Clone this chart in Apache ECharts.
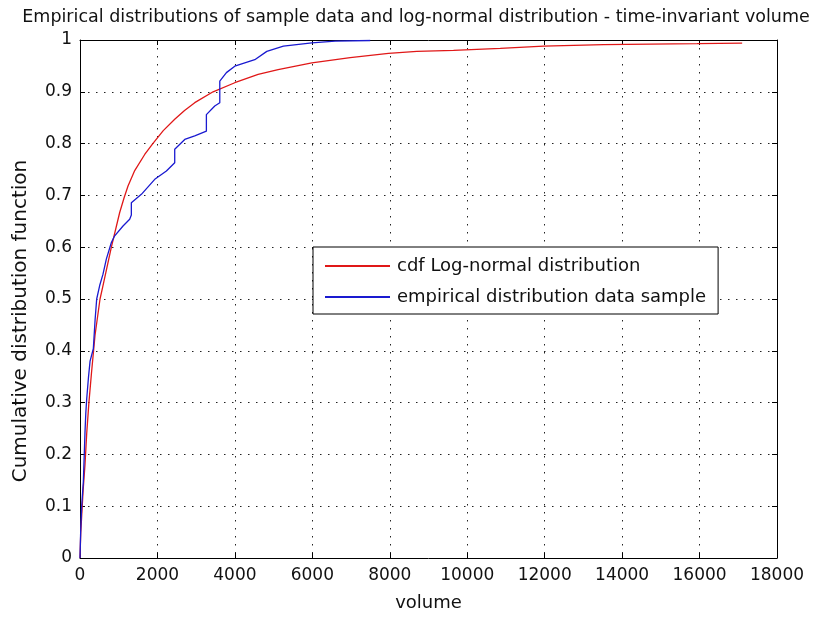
<!DOCTYPE html>
<html>
<head>
<meta charset="utf-8">
<script src="https://cdn.jsdelivr.net/npm/echarts@6/dist/echarts.min.js"></script>
<style>
html,body{margin:0;padding:0;background:#fff;}
#chart{width:832px;height:617px;}
</style>
</head>
<body>
<div id="chart"></div>
<script>
const titleText = 'Empirical distributions of sample data and log-normal distribution - time-invariant volume';
const xName = 'volume';
const yName = 'Cumulative distribution function';
const seriesNames = ['cdf Log-normal distribution', 'empirical distribution data sample'];

const lognormVolume = [0,20,43,80,129,173,230,300,388,517,594,810,1025,1137,1240,1413,1671,1880,2150,2446,2700,2963,3437,3997,4600,5116,5987,6977,7966,8700,9646,10853,11972,13522,15935,17100];
const lognormCdf    = [0,0.05,0.08,0.13,0.18,0.24,0.30,0.36,0.43,0.50,0.526,0.60,0.667,0.695,0.718,0.748,0.779,0.80,0.825,0.847,0.864,0.879,0.90,0.9175,0.9335,0.943,0.956,0.966,0.974,0.978,0.980,0.984,0.988,0.991,0.993,0.994];

const empVolume = [0,17,43,86,110,129,150,173,220,260,344,390,431,508,594,680,810,896,1111,1283,1326,1326,1585,1930,2231,2446,2446,2705,2963,3264,3264,3480,3610,3610,3781,3997,4514,4824,5253,5987,6589,7494];
const empCdf    = [0,0.05,0.1,0.147,0.2,0.243,0.28,0.307,0.35,0.38,0.404,0.46,0.5,0.526,0.548,0.577,0.609,0.622,0.641,0.654,0.662,0.686,0.702,0.731,0.747,0.763,0.789,0.808,0.815,0.824,0.856,0.8725,0.879,0.9206,0.937,0.9495,0.962,0.978,0.988,0.9946,0.998,0.999];

const xMin = 0, xMax = 18000, xStep = 2000;
const yMin = 0, yMax = 1, yStep = 0.1;

const zip = (a, b) => a.map((v, i) => [v, b[i]]);
const font = 'DejaVu Sans, Liberation Sans, sans-serif';
const gridStyle = {show: true, lineStyle: {color: '#222', type: [1.5, 6.5], width: 1}};

const chart = echarts.init(document.getElementById('chart'), null, {renderer: 'canvas'});
chart.setOption({
  backgroundColor: '#fff',
  animation: false,
  title: {
    text: titleText, left: 'center', top: 3,
    textStyle: {fontFamily: font, fontSize: 17.5, fontWeight: 'normal', color: '#111'}
  },
  graphic: [{
    type: 'text', x: 21, y: 321, rotation: Math.PI / 2,
    style: {text: yName, fontFamily: font, fontSize: 20, fill: '#111', align: 'center', verticalAlign: 'middle'}
  }],
  grid: {left: 80, right: 55, top: 40, bottom: 57.5, containLabel: false},
  legend: {
    orient: 'vertical', left: 313, top: 247,
    data: seriesNames,
    backgroundColor: '#fff',
    borderColor: '#000', borderWidth: 1,
    padding: [9, 12, 7, 12],
    itemWidth: 65, itemHeight: 2, itemGap: 11,
    icon: 'rect',
    textStyle: {fontFamily: font, fontSize: 18, color: '#111', lineHeight: 20, padding: [0, 0, 0, 2]}
  },
  xAxis: [{
    type: 'value', min: xMin, max: xMax, interval: xStep,
    name: xName, nameLocation: 'middle', nameGap: 36,
    nameTextStyle: {fontFamily: font, fontSize: 18, color: '#111'},
    axisLine: {show: true, onZero: false, lineStyle: {color: '#000', width: 1}},
    axisTick: {show: true, inside: true, length: 5, lineStyle: {color: '#000'}},
    axisLabel: {fontFamily: font, fontSize: 17, color: '#111', margin: 9, formatter: v => String(v)},
    splitLine: gridStyle
  }, {
    type: 'value', min: xMin, max: xMax, interval: xStep, position: 'top',
    axisLine: {show: true, onZero: false, lineStyle: {color: '#000', width: 1}},
    axisTick: {show: true, inside: true, length: 5, lineStyle: {color: '#000'}},
    axisLabel: {show: false}, splitLine: {show: false}
  }],
  yAxis: [{
    type: 'value', min: yMin, max: yMax, interval: yStep,
    axisLine: {show: true, onZero: false, lineStyle: {color: '#000', width: 1}},
    axisTick: {show: true, inside: true, length: 5, lineStyle: {color: '#000'}},
    axisLabel: {fontFamily: font, fontSize: 17, color: '#111', margin: 8},
    splitLine: gridStyle
  }, {
    type: 'value', min: yMin, max: yMax, interval: yStep, position: 'right',
    axisLine: {show: true, onZero: false, lineStyle: {color: '#000', width: 1}},
    axisTick: {show: true, inside: true, length: 5, lineStyle: {color: '#000'}},
    axisLabel: {show: false}, splitLine: {show: false}
  }],
  series: [{
    name: seriesNames[0], type: 'line', showSymbol: false, symbol: 'none',
    data: zip(lognormVolume, lognormCdf),
    lineStyle: {color: '#e01818', width: 1.3}, itemStyle: {color: '#e01818'}, z: 3
  }, {
    name: seriesNames[1], type: 'line', showSymbol: false, symbol: 'none',
    data: zip(empVolume, empCdf),
    lineStyle: {color: '#1a1ad0', width: 1.3}, itemStyle: {color: '#1a1ad0'}, z: 4
  }]
});
</script>
</body>
</html>
